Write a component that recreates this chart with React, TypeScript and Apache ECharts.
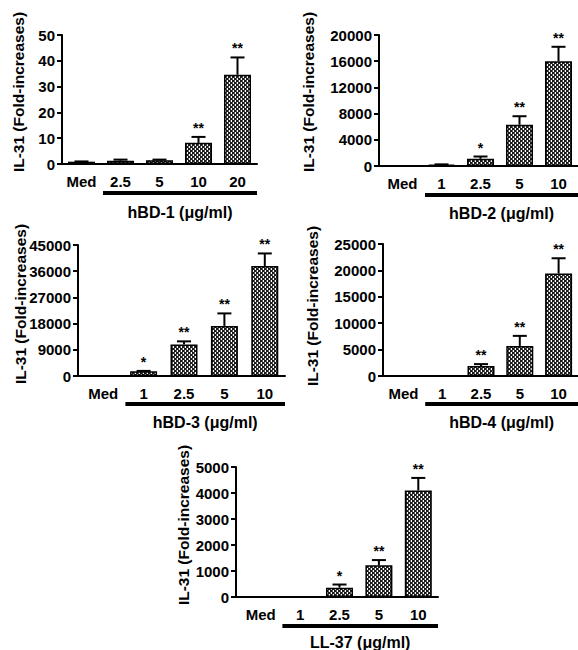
import React, { useEffect, useRef } from 'react';
import * as echarts from 'echarts';

// ---------- data ----------
const catsHBD1 = ['Med', '2.5', '5', '10', '20'];
const catsOther = ['Med', '1', '2.5', '5', '10'];

const hbd1Values = [0.9, 1.3, 1.5, 8.2, 34.6];
const hbd1Errors = [0.1, 0.4, 0.2, 2.3, 6.7];
const hbd1Sig = ['', '', '', '**', '**'];

const hbd2Values = [20, 200, 1100, 6300, 16000];
const hbd2Errors = [0, 50, 350, 1300, 2200];
const hbd2Sig = ['', '', '*', '**', '**'];

const hbd3Values = [0, 1600, 10800, 17200, 37800];
const hbd3Errors = [0, 150, 1100, 4300, 4300];
const hbd3Sig = ['', '*', '**', '**', '**'];

const hbd4Values = [0, 0, 1900, 5700, 19400];
const hbd4Errors = [0, 0, 350, 1900, 2900];
const hbd4Sig = ['', '', '**', '**', '**'];

const ll37Values = [0, 0, 360, 1220, 4100];
const ll37Errors = [0, 0, 120, 200, 480];
const ll37Sig = ['', '', '*', '**', '**'];

const yTitle = 'IL-31 (Fold-increases)';
const xTitles = ['hBD-1 (μg/ml)', 'hBD-2 (μg/ml)', 'hBD-3 (μg/ml)', 'hBD-4 (μg/ml)', 'LL-37 (μg/ml)'];
const yMax = [50, 20000, 45000, 25000, 5000];
const yInterval = [10, 4000, 9000, 5000, 1000];

// ---------- layout ----------
const layout = [
  { left: 62, top: 35, width: 195, height: 129, yOffset: 0, yNameX: 18, yNameY: 92, lineY: 193, titleY: 212 },
  { left: 383, top: 35, width: 200, height: 131, yOffset: 4, yNameX: 308, yNameY: 92, lineY: 195, titleY: 213 },
  { left: 83, top: 245, width: 202, height: 131, yOffset: 5, yNameX: 20, yNameY: 304, lineY: 404, titleY: 422 },
  { left: 384, top: 244, width: 196, height: 132, yOffset: 1, yNameX: 312, yNameY: 306, lineY: 404, titleY: 422 },
  { left: 241, top: 467, width: 197, height: 130, yOffset: 5, yNameX: 183, yNameY: 525, lineY: 626, titleY: 642 },
];

const FONT = 'Arial, "Liberation Sans", Helvetica, sans-serif';

function makePattern(): HTMLCanvasElement {
  const c = document.createElement('canvas');
  c.width = 4;
  c.height = 4;
  const ctx = c.getContext('2d')!;
  ctx.fillStyle = '#ffffff';
  ctx.fillRect(0, 0, 4, 4);
  ctx.fillStyle = '#1a1a1a';
  ctx.fillRect(0, 0, 2, 2);
  ctx.fillRect(2, 2, 2, 2);
  ctx.fillStyle = '#555555';
  ctx.fillRect(2, 0, 1, 2);
  ctx.fillRect(0, 2, 1, 2);
  return c;
}

export default function App() {
  const ref = useRef<HTMLDivElement>(null);

  useEffect(() => {
    if (!ref.current) return;
    const chart = echarts.init(ref.current, null, { renderer: 'svg' });
    const pattern = { image: makePattern(), repeat: 'repeat' };

    const panels = [
      { cats: catsHBD1, values: hbd1Values, errors: hbd1Errors, sig: hbd1Sig },
      { cats: catsOther, values: hbd2Values, errors: hbd2Errors, sig: hbd2Sig },
      { cats: catsOther, values: hbd3Values, errors: hbd3Errors, sig: hbd3Sig },
      { cats: catsOther, values: hbd4Values, errors: hbd4Errors, sig: hbd4Sig },
      { cats: catsOther, values: ll37Values, errors: ll37Errors, sig: ll37Sig },
    ];

    const grid: any[] = [];
    const xAxis: any[] = [];
    const yAxis: any[] = [];
    const series: any[] = [];
    const graphic: any[] = [];

    panels.forEach((p, i) => {
      const L = layout[i];
      grid.push({ left: L.left, top: L.top, width: L.width, height: L.height, containLabel: false });
      xAxis.push({
        type: 'category',
        gridIndex: i,
        data: p.cats,
        axisLine: { show: true, lineStyle: { color: '#000', width: 2 } },
        axisTick: { show: false },
        axisLabel: { color: '#000', fontWeight: 'bold', fontSize: 15, fontFamily: FONT, margin: 10, interval: 0 },
        splitLine: { show: false },
      });
      yAxis.push({
        type: 'value',
        gridIndex: i,
        min: 0,
        max: yMax[i],
        interval: yInterval[i],
        offset: L.yOffset,
        axisLine: { show: true, lineStyle: { color: '#000', width: 2 } },
        axisTick: { show: true, length: 5, lineStyle: { color: '#000', width: 2 } },
        axisLabel: {
          color: '#000',
          fontWeight: 'bold',
          fontSize: 15,
          fontFamily: FONT,
          margin: 7,
          formatter: (v: number) => String(v),
        },
        splitLine: { show: false },
      });
      series.push({
        type: 'bar',
        xAxisIndex: i,
        yAxisIndex: i,
        data: p.values,
        barWidth: 27,
        itemStyle: { color: pattern, borderColor: '#000', borderWidth: 1.5 },
        z: 2,
      });
      const sig = p.sig;
      series.push({
        type: 'custom',
        xAxisIndex: i,
        yAxisIndex: i,
        data: p.values.map((v, j) => [j, v, p.errors[j]]),
        encode: { x: 0, y: 1 },
        z: 3,
        renderItem: (params: any, api: any) => {
          const x = api.value(0);
          const y = api.value(1);
          const e = api.value(2);
          const base = api.coord([x, y]);
          const top = api.coord([x, y + e]);
          const children: any[] = [];
          if (e > 0) {
            children.push({
              type: 'line',
              shape: { x1: base[0], y1: base[1], x2: top[0], y2: top[1] },
              style: { stroke: '#000', lineWidth: 2 },
            });
            children.push({
              type: 'line',
              shape: { x1: top[0] - 7, y1: top[1], x2: top[0] + 7, y2: top[1] },
              style: { stroke: '#000', lineWidth: 2 },
            });
          }
          const s = sig[params.dataIndex];
          if (s) {
            children.push({
              type: 'text',
              style: {
                text: s,
                x: top[0],
                y: top[1] - 2,
                align: 'center',
                verticalAlign: 'bottom',
                font: `bold 14px ${FONT}`,
                fill: '#000',
              },
            });
          }
          return { type: 'group', children };
        },
      });

      const spacing = L.width / p.cats.length;
      const x1 = L.left + spacing + 2;
      const x2 = L.left + L.width;
      graphic.push({
        type: 'rect',
        shape: { x: x1, y: L.lineY - 2, width: x2 - x1, height: 4 },
        style: { fill: '#000' },
      });
      graphic.push({
        type: 'text',
        x: (x1 + Math.min(x2, 578)) / 2,
        y: L.titleY,
        style: {
          text: xTitles[i],
          align: 'center',
          verticalAlign: 'middle',
          font: `bold 16px ${FONT}`,
          fill: '#000',
        },
      });
      graphic.push({
        type: 'text',
        x: L.yNameX,
        y: L.yNameY,
        rotation: Math.PI / 2,
        style: {
          text: yTitle,
          align: 'center',
          verticalAlign: 'middle',
          font: `bold 15.5px ${FONT}`,
          fill: '#000',
        },
      });
      if (L.yOffset > 0) {
        graphic.push({
          type: 'line',
          shape: { x1: L.left - L.yOffset - 1, y1: L.top + L.height, x2: L.left, y2: L.top + L.height },
          style: { stroke: '#000', lineWidth: 2 },
        });
      }
    });

    chart.setOption({
      animation: false,
      backgroundColor: '#fff',
      grid,
      xAxis,
      yAxis,
      series,
      graphic,
    });
    return () => chart.dispose();
  }, []);

  return (
    <div
      ref={ref}
      style={{ position: 'fixed', left: 0, top: 0, width: 578, height: 650, background: '#fff' }}
    />
  );
}
